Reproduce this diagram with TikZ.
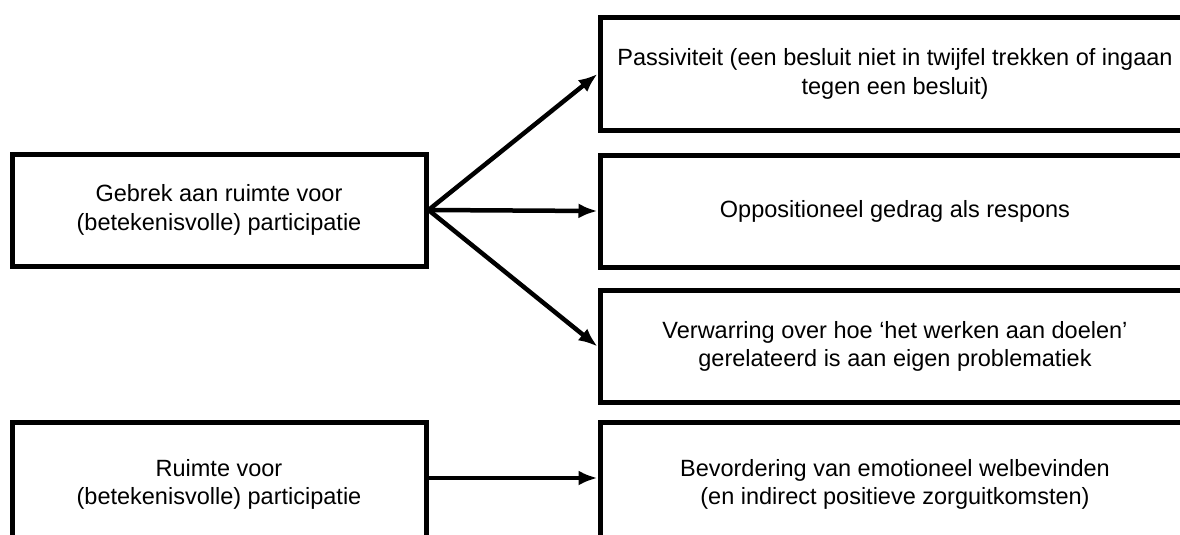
\documentclass[tikz,border=0pt]{standalone}
\usepackage{fontspec}
\setmainfont{Liberation Sans}
\usetikzlibrary{arrows.meta, positioning}
\usepackage{xcolor}

\begin{document}
\begin{tikzpicture}[x=1pt, y=-1pt, line width=5pt, font=\fontsize{23.5}{28.5}\selectfont]

			% Define style for boxes
			\tikzstyle{block} = [rectangle, draw, fill=white, align=center,
								inner sep=0pt, minimum height=112pt]
			\tikzstyle{cause} = [block, minimum width=414pt]
			\tikzstyle{effect} = [block, minimum width=590pt]
		
			% Define style for arrows
			\tikzstyle{line} = [draw, line width=4.5pt, -{Latex[length=19pt, width=15pt]}]

			\clip (0,0) rectangle (1180,535);
		
			% Place nodes
			\node [cause] (gebrek) at (219,210) {Gebrek aan ruimte voor\\(betekenisvolle) participatie};
			\node [effect] (passief) at (895,74) {Passiviteit (een besluit niet in twijfel trekken of ingaan\\tegen een besluit)};
			\node [effect] (oppositie) at (895,211) {Oppositioneel gedrag als respons};
			\node [effect] (verwarring) at (895,346.5) {Verwarring over hoe ‘het werken aan doelen’\\gerelateerd is aan eigen problematiek};
			\node [cause, minimum height=124pt] (ruimte) at (219,484.5) {Ruimte voor\\(betekenisvolle) participatie};
			\node [effect, minimum height=124pt] (welbevinden) at (895,484.5) {Bevordering van emotioneel welbevinden\\(en indirect positieve zorguitkomsten)};
		
			% Draw edges
			\path [line] (gebrek.east) -- (passief.west);
			\path [line] (gebrek.east) -- (oppositie.west);
			\path [line] (gebrek.east) -- (verwarring.west);
			\path [line] (ruimte.east |- 0,478) -- (welbevinden.west |- 0,478);
		\end{tikzpicture}
\end{document}
